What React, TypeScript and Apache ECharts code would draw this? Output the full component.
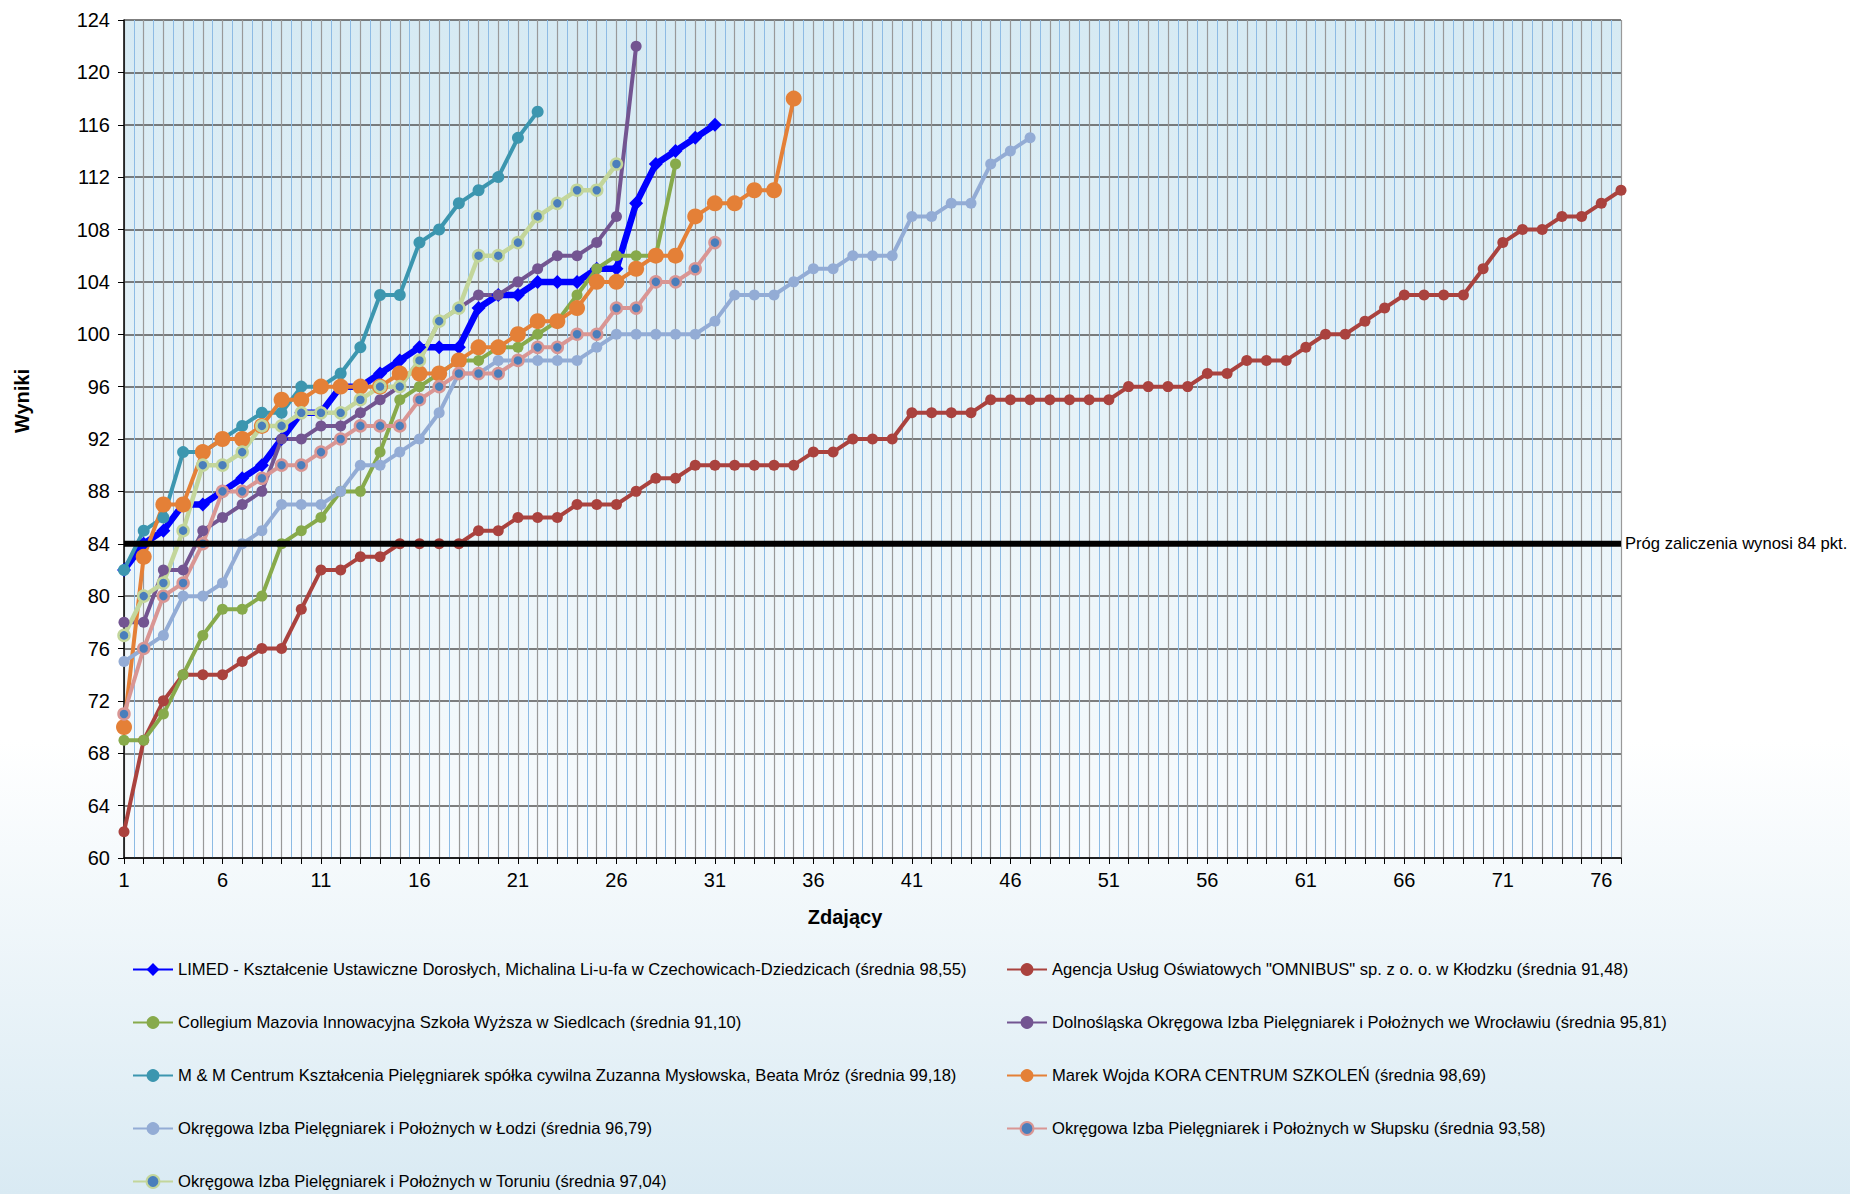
import React, { useEffect, useRef } from "react";
import * as echarts from "echarts";

const FONT = '"Liberation Sans", Arial, Helvetica, sans-serif';

// Names (legend order: left column / right column)
const nLimed = "LIMED - Kształcenie Ustawiczne Dorosłych, Michalina Li-u-fa w Czechowicach-Dziedzicach (średnia 98,55)";
const nOmnibus = 'Agencja Usług Oświatowych "OMNIBUS" sp. z o. o. w Kłodzku (średnia 91,48)';
const nCollegium = "Collegium Mazovia Innowacyjna Szkoła Wyższa w Siedlcach (średnia 91,10)";
const nDoiPiP = "Dolnośląska Okręgowa Izba Pielęgniarek i Położnych we Wrocławiu (średnia 95,81)";
const nMM = "M & M Centrum Kształcenia Pielęgniarek spółka cywilna Zuzanna Mysłowska, Beata Mróz (średnia 99,18)";
const nKora = "Marek Wojda KORA CENTRUM SZKOLEŃ (średnia 98,69)";
const nLodz = "Okręgowa Izba Pielęgniarek i Położnych w Łodzi (średnia 96,79)";
const nSlupsk = "Okręgowa Izba Pielęgniarek i Położnych w Słupsku (średnia 93,58)";
const nTorun = "Okręgowa Izba Pielęgniarek i Położnych w Toruniu (średnia 97,04)";

// Series values (score of consecutive candidates, sorted)
const limed = [82, 84, 85, 87, 87, 88, 89, 90, 92, 94, 94, 96, 96, 97, 98, 99, 99, 99, 102, 103, 103, 104, 104, 104, 105, 105, 110, 113, 114, 115, 116];
const omnibus = [62, 69, 72, 74, 74, 74, 75, 76, 76, 79, 82, 82, 83, 83, 84, 84, 84, 84, 85, 85, 86, 86, 86, 87, 87, 87, 88, 89, 89, 90, 90, 90, 90, 90, 90, 91, 91, 92, 92, 92, 94, 94, 94, 94, 95, 95, 95, 95, 95, 95, 95, 96, 96, 96, 96, 97, 97, 98, 98, 98, 99, 100, 100, 101, 102, 103, 103, 103, 103, 105, 107, 108, 108, 109, 109, 110, 111];
const collegium = [69, 69, 71, 74, 77, 79, 79, 80, 84, 85, 86, 88, 88, 91, 95, 96, 97, 98, 98, 99, 99, 100, 101, 103, 105, 106, 106, 106, 113];
const dolnoslaska = [78, 78, 82, 82, 85, 86, 87, 88, 92, 92, 93, 93, 94, 95, 96, 98, 101, 102, 103, 103, 104, 105, 106, 106, 107, 109, 122];
const mm = [82, 85, 86, 91, 91, 92, 93, 94, 94, 96, 96, 97, 99, 103, 103, 107, 108, 110, 111, 112, 115, 117];
const kora = [70, 83, 87, 87, 91, 92, 92, 93, 95, 95, 96, 96, 96, 96, 97, 97, 97, 98, 99, 99, 100, 101, 101, 102, 104, 104, 105, 106, 106, 109, 110, 110, 111, 111, 118];
const lodz = [75, 76, 77, 80, 80, 81, 84, 85, 87, 87, 87, 88, 90, 90, 91, 92, 94, 97, 97, 98, 98, 98, 98, 98, 99, 100, 100, 100, 100, 100, 101, 103, 103, 103, 104, 105, 105, 106, 106, 106, 109, 109, 110, 110, 113, 114, 115];
const slupsk = [71, 76, 80, 81, 84, 88, 88, 89, 90, 90, 91, 92, 93, 93, 93, 95, 96, 97, 97, 97, 98, 99, 99, 100, 100, 102, 102, 104, 104, 105, 107];
const torun = [77, 80, 81, 85, 90, 90, 91, 93, 93, 94, 94, 94, 95, 96, 96, 98, 101, 102, 106, 106, 107, 109, 110, 111, 111, 113];

const threshold = 84;
const thresholdLabel = "Próg zaliczenia wynosi 84 pkt.";
const xMin = 1;
const xMax = 77;
const yMin = 60;
const yMax = 124;
const yStep = 4;
const xLabelStep = 5;

const leftLegend = [nLimed, nCollegium, nMM, nLodz, nTorun];
const rightLegend = [nOmnibus, nDoiPiP, nKora, nSlupsk];

function toPts(vals: number[]) {
  return vals.map((v, i) => [i + 1, v]);
}

function mk(name: string, vals: number[], o: any) {
  return {
    type: "line",
    name,
    data: toPts(vals),
    symbol: o.symbol || "circle",
    symbolSize: o.size,
    showSymbol: true,
    lineStyle: { color: o.line, width: o.width },
    itemStyle: {
      color: o.fill || o.line,
      borderColor: o.border || o.fill || o.line,
      borderWidth: o.borderWidth || 0,
    },
    emphasis: { disabled: true },
  };
}

export default function App() {
  const ref = useRef<HTMLDivElement>(null);
  useEffect(() => {
    if (!ref.current) return;
    const chart = echarts.init(ref.current, undefined, { renderer: "svg" });
    const series: any[] = [
      mk(nLimed, limed, { line: "#0000FF", width: 6.5, symbol: "diamond", size: 14 }),
      mk(nOmnibus, omnibus, { line: "#AA423E", width: 4, size: 11 }),
      mk(nCollegium, collegium, { line: "#87AA4B", width: 4, size: 11 }),
      mk(nDoiPiP, dolnoslaska, { line: "#735591", width: 4, size: 11 }),
      mk(nMM, mm, { line: "#3C96AF", width: 4, size: 12 }),
      mk(nKora, kora, { line: "#E48037", width: 4, size: 16 }),
      mk(nLodz, lodz, { line: "#93ACD5", width: 4, size: 11 }),
      mk(nSlupsk, slupsk, { line: "#D99694", width: 4, size: 11, fill: "#4A7EBB", border: "#D99694", borderWidth: 2.5 }),
      mk(nTorun, torun, { line: "#C3D69B", width: 4.5, size: 11, fill: "#4A7EBB", border: "#C3D69B", borderWidth: 2.5 }),
      {
        type: "line",
        name: "Próg",
        data: [[xMin, threshold], [xMax, threshold]],
        symbol: "none",
        lineStyle: { color: "#000000", width: 6 },
        emphasis: { disabled: true },
        endLabel: {
          show: true,
          formatter: thresholdLabel,
          color: "#000",
          fontFamily: FONT,
          fontSize: 16.6,
          distance: 4,
        },
        z: 5,
      },
    ];

    const legendText = { fontSize: 16.6, color: "#000", fontFamily: FONT, lineHeight: 16 };

    const option: any = {
      animation: false,
      backgroundColor: {
        type: "linear",
        x: 0, y: 0, x2: 0, y2: 1,
        colorStops: [
          { offset: 0, color: "#ffffff" },
          { offset: 0.62, color: "#ffffff" },
          { offset: 1, color: "#d9eaf3" },
        ],
      },
      textStyle: { fontFamily: FONT },
      grid: {
        left: 124,
        right: 229,
        top: 20,
        bottom: 336,
        show: true,
        borderWidth: 0,
        backgroundColor: {
          type: "linear",
          x: 0, y: 0, x2: 0, y2: 1,
          colorStops: [
            { offset: 0, color: "#d6eaf3" },
            { offset: 1, color: "#f8fbfd" },
          ],
        },
      },
      xAxis: {
        type: "value",
        min: xMin,
        max: xMax,
        interval: 1,
        axisLine: { show: true, lineStyle: { color: "#000", width: 1.5 } },
        axisTick: { show: true, length: 6, lineStyle: { color: "#000", width: 1 } },
        axisLabel: {
          color: "#000",
          fontSize: 20,
          fontFamily: FONT,
          margin: 12,
          formatter: (v: number) => ((v - xMin) % xLabelStep === 0 ? String(v) : ""),
        },
        splitLine: { show: true, lineStyle: { color: "#999999", width: 1.2 } },
        minorTick: { show: false, splitNumber: 2 },
        minorSplitLine: { show: true, lineStyle: { color: "#8dbbe4", width: 1 } },
      },
      yAxis: {
        type: "value",
        min: yMin,
        max: yMax,
        interval: yStep,
        axisLine: { show: true, lineStyle: { color: "#000", width: 1.5 } },
        axisTick: { show: true, length: 6, lineStyle: { color: "#000", width: 1 } },
        axisLabel: { color: "#000", fontSize: 20, fontFamily: FONT, margin: 14 },
        splitLine: { show: true, lineStyle: { color: "#555555", width: 1.6 } },
      },
      legend: [
        {
          data: leftLegend,
          orient: "vertical",
          left: 132,
          top: 961,
          padding: 0,
          itemGap: 36,
          itemWidth: 40,
          itemHeight: 16,
          selectedMode: false,
          textStyle: legendText,
        },
        {
          data: rightLegend,
          orient: "vertical",
          left: 1006,
          top: 961,
          padding: 0,
          itemGap: 36,
          itemWidth: 40,
          itemHeight: 16,
          selectedMode: false,
          textStyle: legendText,
        },
      ],
      graphic: [
        {
          type: "text",
          x: 22,
          y: 401,
          rotation: Math.PI / 2,
          style: {
            text: "Wyniki",
            font: "bold 20px " + FONT,
            fill: "#000",
            align: "center",
            verticalAlign: "middle",
            textAlign: "center",
            textVerticalAlign: "middle",
          },
        },
        {
          type: "text",
          x: 845,
          y: 917,
          style: {
            text: "Zdający",
            font: "bold 20px " + FONT,
            fill: "#000",
            align: "center",
            verticalAlign: "middle",
            textAlign: "center",
            textVerticalAlign: "middle",
          },
        },
      ],
      series,
    };
    chart.setOption(option);
    return () => chart.dispose();
  }, []);

  return (
    <div
      ref={ref}
      style={{ position: "fixed", left: 0, top: 0, width: "1850px", height: "1194px" }}
    />
  );
}
